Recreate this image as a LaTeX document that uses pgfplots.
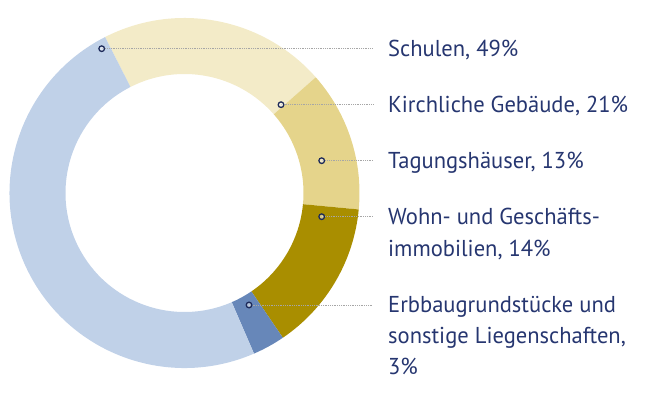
\documentclass[border=0pt]{standalone}
\usepackage{pgfplots}
\pgfplotsset{compat=1.18}
\usepackage{fontspec}
\setmainfont{PT Sans}[FakeStretch=0.98]

\definecolor{schule}{HTML}{C0D1E8}
\definecolor{kirche}{HTML}{F3EBC8}
\definecolor{tagung}{HTML}{E5D48B}
\definecolor{wohn}{HTML}{A98E00}
\definecolor{erbbau}{HTML}{6787B9}
\definecolor{navy}{HTML}{263670}
\tikzstyle{lbl}=[anchor=base west,inner sep=0pt,text=navy,font=\fontsize{23}{23}\selectfont]

\begin{document}
\begin{tikzpicture}
\begin{axis}[
    width=650pt, height=401pt, scale only axis,
    xmin=0, xmax=650, ymin=0, ymax=401,
    hide axis, clip=false, xtick=\empty, ytick=\empty,
]
\coordinate (sw) at (rel axis cs:0,0);
\coordinate (ne) at (rel axis cs:1,1);
% ring segments, clockwise from 117 deg; shares in percent
\xdef\angA{117}
\foreach \v/\c in {21/kirche,13/tagung,14/wohn,3/erbbau,49/schule}{
    \pgfmathsetmacro\angB{\angA-3.6*\v}
    \edef\temp{\noexpand\fill[\c] (axis cs:184.5,208) ++(\angA:175pt)
        arc[start angle=\angA,end angle=\angB,radius=175pt]
        -- ++(\angB:-56pt)
        arc[start angle=\angB,end angle=\angA,radius=119pt] -- cycle;}
    \temp
    \xdef\angA{\angB}
}

% leader lines
\addplot[gray!70, densely dotted, line width=0.8pt] coordinates {(101.7,352.3) (373,352.3)};
\addplot[gray!70, densely dotted, line width=0.8pt] coordinates {(281,296.3) (373,296.3)};
\addplot[gray!70, densely dotted, line width=0.8pt] coordinates {(321.7,240.3) (373,240.3)};
\addplot[gray!70, densely dotted, line width=0.8pt] coordinates {(321.7,184.3) (373,184.3)};
\addplot[gray!70, densely dotted, line width=0.8pt] coordinates {(249,96) (373,96)};

% markers
\addplot[only marks, mark=*, mark size=2.8pt,
    mark options={draw=navy!80!black, fill=white, fill opacity=0.5, line width=1.3pt}]
    coordinates {(101.7,352.3) (281,296.3) (321.7,240.3) (321.7,184.3) (249,96)};

% labels
\node[lbl] at (axis cs:388,344.3) {Schulen, 49\%};
\node[lbl] at (axis cs:388,288) {Kirchliche Gebäude, 21\%};
\node[lbl] at (axis cs:388,232) {Tagungshäuser, 13\%};
\node[lbl] at (axis cs:388,176) {Wohn- und Geschäfts-};
\node[lbl] at (axis cs:388,144) {immobilien, 14\%};
\node[lbl] at (axis cs:388,88) {Erbbaugrundstücke und};
\node[lbl] at (axis cs:388,57) {sonstige Liegenschaften,};
\node[lbl] at (axis cs:388,26) {3\%};
\end{axis}
\pgfresetboundingbox
\path[use as bounding box] (sw) rectangle (ne);
\end{tikzpicture}
\end{document}
